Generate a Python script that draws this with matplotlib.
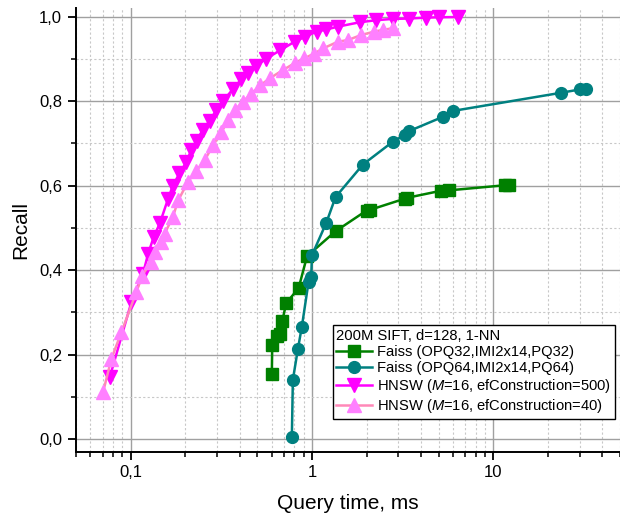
import numpy as np
import matplotlib
matplotlib.use('Agg')
import matplotlib.pyplot as plt
from matplotlib.ticker import LogLocator, MultipleLocator, FuncFormatter

plt.rcParams['font.family'] = ['Liberation Sans', 'DejaVu Sans']
plt.rcParams['mathtext.fontset'] = 'custom'
plt.rcParams['mathtext.rm'] = 'Liberation Sans'
plt.rcParams['mathtext.it'] = 'Liberation Sans:italic'


##########################################################################################
#Data (query time in ms, recall)

faiss32_t = [0.601, 0.604, 0.641, 0.663, 0.686, 0.722, 0.844, 0.940, 1.35, 2.0, 2.1, 3.24, 3.33, 5.16, 5.73, 11.6, 12.2]
faiss32_r = [0.153, 0.223, 0.243, 0.249, 0.279, 0.322, 0.357, 0.433, 0.492, 0.541, 0.543, 0.569, 0.571, 0.588, 0.589, 0.601, 0.602]

faiss64_t = [0.775, 0.785, 0.836, 0.88, 0.958, 0.991, 1.0, 1.2, 1.35, 1.91, 2.79, 3.24, 3.42, 5.27, 5.98, 23.6, 30.1, 32.5]
faiss64_r = [0.005, 0.140, 0.212, 0.266, 0.372, 0.383, 0.435, 0.512, 0.573, 0.650, 0.704, 0.720, 0.729, 0.763, 0.777, 0.820, 0.828, 0.829]

hnsw500_t = [0.0767, 0.101, 0.117, 0.125, 0.134, 0.145, 0.161, 0.171, 0.186, 0.203,
			 0.216, 0.231, 0.250, 0.273, 0.297, 0.323, 0.367, 0.408, 0.444, 0.493,
			 0.560, 0.670, 0.802, 0.920, 1.06, 1.20, 1.40, 1.83, 2.26, 2.79,
			 3.45, 4.26, 5.04, 6.36]
hnsw500_r = [0.146, 0.324, 0.391, 0.439, 0.478, 0.511, 0.569, 0.600, 0.629, 0.656,
			 0.684, 0.707, 0.732, 0.754, 0.779, 0.800, 0.829, 0.852, 0.866, 0.884,
			 0.901, 0.921, 0.941, 0.953, 0.965, 0.970, 0.977, 0.987, 0.992, 0.995,
			 0.996, 0.998, 0.999, 0.9995]

hnsw40_t = [0.0705, 0.0784, 0.089, 0.1076, 0.116, 0.129, 0.136, 0.148, 0.154, 0.171,
			0.183, 0.207, 0.230, 0.256, 0.285, 0.317, 0.345, 0.375, 0.417, 0.463,
			0.520, 0.584, 0.692, 0.802, 0.91, 1.03, 1.15, 1.39, 1.58, 1.87,
			2.21, 2.46, 2.79]
hnsw40_r = [0.111, 0.190, 0.253, 0.348, 0.387, 0.419, 0.443, 0.466, 0.486, 0.526,
			0.565, 0.609, 0.635, 0.660, 0.696, 0.727, 0.755, 0.779, 0.799, 0.818,
			0.838, 0.854, 0.874, 0.890, 0.902, 0.913, 0.925, 0.941, 0.945, 0.957,
			0.965, 0.969, 0.973]

legend_title = '200M SIFT, d=128, 1-NN'
labels = ['Faiss (OPQ32,IMI2x14,PQ32)',
		  'Faiss (OPQ64,IMI2x14,PQ64)',
		  r'HNSW ($\it{M}$=16, efConstruction=500)',
		  r'HNSW ($\it{M}$=16, efConstruction=40)']


##########################################################################################
#Plot

fig = plt.figure(figsize=(6.2, 5.14), dpi=100)
ax1 = fig.add_axes([0.1226, 0.1214, 0.8774, 0.8623])

ax1.plot(faiss32_t, faiss32_r, color='#008000', lw=1.8, marker='s', ms=8.5, label=labels[0])
ax1.plot(faiss64_t, faiss64_r, color='#008080', lw=1.8, marker='o', ms=8.5, label=labels[1])
ax1.plot(hnsw500_t, hnsw500_r, color='#ff00ff', lw=1.8, marker='v', ms=9.5, label=labels[2])
ax1.plot(hnsw40_t, hnsw40_r, color='#ff88b8', lw=1.8, marker='^', ms=9.5,
		 mfc='#ff80ff', mec='#ff80ff', label=labels[3])

ax1.set_xscale('log')
ax1.set_xlim([0.05, 50])
ax1.set_ylim([-0.03, 1.02])

#ticks and grid
ax1.xaxis.set_major_locator(LogLocator(base=10))
ax1.xaxis.set_minor_locator(LogLocator(base=10, subs=np.arange(2, 10)))
ax1.xaxis.set_minor_formatter(plt.NullFormatter())
ax1.xaxis.set_major_formatter(FuncFormatter(lambda v, p: ('%g' % v).replace('.', ',')))
ax1.yaxis.set_major_locator(MultipleLocator(0.2))
ax1.yaxis.set_minor_locator(MultipleLocator(0.1))
ax1.yaxis.set_major_formatter(FuncFormatter(lambda v, p: ('%.1f' % v).replace('.', ',')))

ax1.grid(which='major', color='#a0a0a0', lw=1.0, ls='-')
ax1.grid(which='minor', color='#c8c8c8', lw=0.8, ls=(0, (2, 2)))
ax1.set_axisbelow(True)

ax1.tick_params(which='major', direction='out', length=6, width=1.3, labelsize=12, colors='black', pad=4)
ax1.tick_params(which='minor', direction='out', length=3.5, width=1.1)

for s in ['top', 'right']:
	ax1.spines[s].set_visible(False)
for s in ['left', 'bottom']:
	ax1.spines[s].set_linewidth(1.4)

ax1.set_xlabel('Query time, ms', fontsize=15, labelpad=10)
ax1.set_ylabel('Recall', fontsize=15, labelpad=6)

leg = ax1.legend(loc='upper left', bbox_to_anchor=(0.472, 0.286), borderaxespad=0,
				 title=legend_title, title_fontsize=10.6, fontsize=10.6, alignment='left',
				 fancybox=False, framealpha=1, edgecolor='black', handlelength=2.4,
				 labelspacing=0.15, handletextpad=0.35, borderpad=0.25)
leg.get_frame().set_linewidth(1.0)

plt.savefig('out.png', dpi=100)
plt.close()
